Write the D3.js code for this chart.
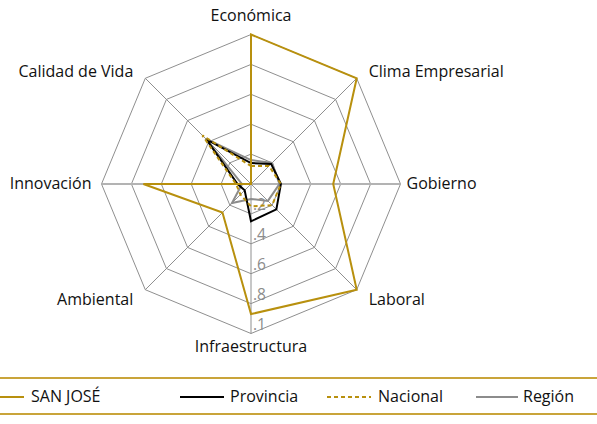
<!DOCTYPE html>
<html><head><meta charset="utf-8">
<script src="https://cdn.jsdelivr.net/npm/d3@7"></script>
<style>
body{margin:0;background:#fff;}
svg{display:block;}
text{font-family:"Open Sans","Noto Sans",sans-serif;}
</style></head>
<body><svg id="c" width="597" height="424"></svg>
<script>
const axes = ["Económica","Clima Empresarial","Gobierno","Laboral","Infraestructura","Ambiental","Innovación","Calidad de Vida"];
const sanJose   = [1.00, 1.00, 0.55, 1.00, 0.87, 0.27, 0.72, 0.00];
const provincia = [0.14, 0.19, 0.20, 0.24, 0.25, 0.06, 0.09, 0.42];
const nacional  = [0.12, 0.17, 0.20, 0.20, 0.15, 0.10, 0.10, 0.46];
const region    = [0.16, 0.20, 0.19, 0.16, 0.10, 0.18, 0.06, 0.43];
const tickValues = [0.2, 0.4, 0.6, 0.8, 1.0];
const tickLabels = [".2", ".4", ".6", ".8", ".1"];
const seriesNames = ["SAN JOSÉ", "Provincia", "Nacional", "Región"];

const GOLD = "#b8900e", GRID = "#8f8f8f";
const svg = d3.select("#c");
const cx = 251, cy = 184, R = 149.5;
const r = d3.scaleLinear().domain([0, 1]).range([0, R]);
const ang = d3.scalePoint().domain(axes).range([0, 2*Math.PI*(axes.length-1)/axes.length]);
const pt = (a, v) => [cx + r(v)*Math.sin(ang(a)), cy - r(v)*Math.cos(ang(a))];

// rings
tickValues.forEach(t => {
  svg.append("polygon")
    .attr("points", axes.map(a => pt(a, t).join(",")).join(" "))
    .attr("fill", "none").attr("stroke", GRID).attr("stroke-width", 1);
});
// spokes
axes.forEach(a => {
  const [x, y] = pt(a, 1);
  const horiz = Math.abs(Math.sin(ang(a))) > 0.99;
  svg.append("line").attr("x1", cx).attr("y1", cy).attr("x2", x).attr("y2", y)
    .attr("stroke", horiz ? "#b3b3b3" : GRID).attr("stroke-width", horiz ? 2 : 1);
});
// tick labels along bottom axis
tickValues.forEach((t, i) => {
  svg.append("text").attr("x", cx + 2).attr("y", cy + r(t) - 4)
    .attr("fill", "#8c8c8c").attr("font-size", 15.5).text(tickLabels[i]);
});

// series
const line = d3.line().curve(d3.curveLinearClosed);
const series = [
  {vals: region, color: "#8c8c8c", dash: null},
  {vals: provincia, color: "#000", dash: null},
  {vals: nacional, color: GOLD, dash: "4,3"},
  {vals: sanJose, color: GOLD, dash: null}
];
series.forEach(s => {
  svg.append("path").attr("d", line(axes.map((a, i) => pt(a, s.vals[i]))))
    .attr("fill", "none").attr("stroke", s.color).attr("stroke-width", 2)
    .attr("stroke-linejoin", "miter")
    .attr("stroke-dasharray", s.dash);
});

// category labels
axes.forEach(a => {
  const s = Math.sin(ang(a)), c = Math.cos(ang(a));
  const [x, y] = pt(a, 1);
  let tx = x, ty = y, anchor = "middle";
  if (Math.abs(s) < 0.01) { ty = c > 0 ? y - 20 : y + 12; }
  else if (Math.abs(c) < 0.01) { tx = x + (s > 0 ? 6 : -10); anchor = s > 0 ? "start" : "end"; ty = y - 1; }
  else {
    tx = x + (s > 0 ? 12 : -12); anchor = s > 0 ? "start" : "end";
    ty = c > 0 ? y - 7 : y + 9;
  }
  svg.append("text").attr("x", tx).attr("y", ty).attr("text-anchor", anchor)
    .attr("dominant-baseline", "central").attr("font-size", 16).attr("fill", "#111").text(a);
});

// legend
svg.append("line").attr("x1", 0).attr("x2", 597).attr("y1", 378).attr("y2", 378).attr("stroke", "#c9a43a").attr("stroke-width", 2);
svg.append("line").attr("x1", 0).attr("x2", 597).attr("y1", 414).attr("y2", 414).attr("stroke", "#c9a43a").attr("stroke-width", 2);
const legX = [[0, 24, 31], [180, 224, 230], [327, 371, 378], [476, 518, 523]];
const legStyle = [[GOLD, null], ["#000", null], [GOLD, "4,3"], ["#8c8c8c", null]];
seriesNames.forEach((n, i) => {
  svg.append("line").attr("x1", legX[i][0]).attr("x2", legX[i][1]).attr("y1", 397).attr("y2", 397)
    .attr("stroke", legStyle[i][0]).attr("stroke-width", 2).attr("stroke-dasharray", legStyle[i][1]);
  svg.append("text").attr("x", legX[i][2]).attr("y", 396).attr("dominant-baseline", "central")
    .attr("font-size", 16).attr("fill", "#111").text(n);
});
</script></body></html>
